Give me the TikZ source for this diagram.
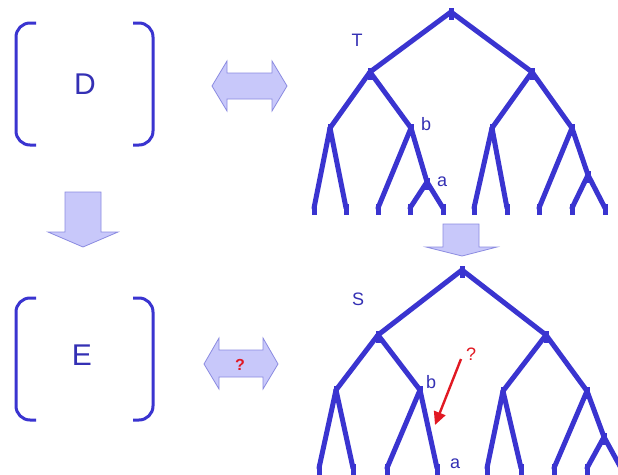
\documentclass[tikz,border=0pt]{standalone}
\usepackage{fontspec}
\setmainfont{Liberation Sans}
\usetikzlibrary{arrows.meta}
\definecolor{treeblue}{RGB}{58,52,208}
\definecolor{txtblue}{RGB}{52,48,180}
\definecolor{blockfill}{RGB}{200,200,250}
\definecolor{blockedge}{RGB}{140,140,225}
\definecolor{qred}{RGB}{225,25,35}
\tikzset{
  edge/.style={treeblue, line width=5pt, line cap=round, line join=round},
  stub/.style={treeblue, line width=5pt, line cap=rect},
  bracket/.style={treeblue, line width=3pt, rounded corners=14pt},
  blockarrow/.style={fill=blockfill, draw=blockedge, line width=0.8pt, line join=miter},
  lbl/.style={txtblue, font=\fontsize{18}{18}\selectfont, inner sep=0pt},
  big/.style={txtblue, font=\fontsize{30}{30}\selectfont, inner sep=0pt},
  qmark/.style={qred, font=\fontsize{18}{18}\selectfont, inner sep=0pt},
}
\newcommand{\nodestub}[1]{\draw[stub] ([yshift=-5pt]#1) -- ([yshift=2pt]#1);}
\newcommand{\leafstub}[1]{\draw[stub] ([yshift=-4pt]#1) -- ([yshift=2pt]#1);}
\begin{document}
\begin{tikzpicture}[x=1pt,y=-1pt]
\path[fill=white] (0,0) rectangle (618,474);
\clip (0,0) rectangle (618,474);

% ---------- left column: D and E ----------
\draw[bracket] (36,23) -- (16,23) -- (16,145) -- (36,145);
\draw[bracket] (133,23) -- (153,23) -- (153,145) -- (133,145);
\node[big] (D) at (85,84) {D};

\draw[bracket] (36,298) -- (16,298) -- (16,420) -- (36,420);
\draw[bracket] (133,298) -- (153,298) -- (153,420) -- (133,420);
\node[big] (E) at (82,355) {E};

% downward block arrow D -> E
\draw[blockarrow] (65,192) -- (101,192) -- (101,232) -- (118,232) -- (83,247)
  -- (48,232) -- (65,232) -- cycle;

% double block arrow D <-> T
\draw[blockarrow] (212,86) -- (227,61) -- (227,73) -- (272,73) -- (272,61)
  -- (287,86) -- (272,111) -- (272,99) -- (227,99) -- (227,111) -- cycle;

% double block arrow E <-> S with question mark
\draw[blockarrow] (204,364) -- (219,338) -- (219,350) -- (263,350) -- (263,338)
  -- (278,364) -- (263,389) -- (263,377) -- (219,377) -- (219,389) -- cycle;
\node[qred, font=\bfseries\fontsize{16}{16}\selectfont, inner sep=0pt] (q1) at (240,365) {?};

% downward block arrow T -> S
\draw[blockarrow] (443,224) -- (479,224) -- (479,247) -- (497,247) -- (462,256)
  -- (426,247) -- (443,247) -- cycle;

% ---------- tree T ----------
\coordinate (Tr) at (451,12);
\coordinate (T1) at (370,72);
\coordinate (T2) at (532,72);
\coordinate (T11) at (330,128);
\coordinate (Tb) at (411,128);
\coordinate (T21) at (492,128);
\coordinate (T22) at (572,128);
\coordinate (Ta) at (427,182);
\coordinate (T222) at (588,175);
\coordinate (L1) at (314,208);
\coordinate (L2) at (346,208);
\coordinate (L3) at (378,208);
\coordinate (L4) at (410,208);
\coordinate (L5) at (443,208);
\coordinate (L6) at (474,208);
\coordinate (L7) at (507,208);
\coordinate (L8) at (539,208);
\coordinate (L9) at (572,208);
\coordinate (L10) at (605,208);

\draw[edge] (Tr) -- (T1);  \draw[edge] (Tr) -- (T2);
\draw[edge] (T1) -- (T11); \draw[edge] (T1) -- (Tb);
\draw[edge] (T2) -- (T21); \draw[edge] (T2) -- (T22);
\draw[edge] (T11) -- (L1); \draw[edge] (T11) -- (L2);
\draw[edge] (Tb) -- (L3);  \draw[edge] (Tb) -- (Ta);
\draw[edge] (Ta) -- (L4);  \draw[edge] (Ta) -- (L5);
\draw[edge] (T21) -- (L6); \draw[edge] (T21) -- (L7);
\draw[edge] (T22) -- (L8); \draw[edge] (T22) -- (T222);
\draw[edge] (T222) -- (L9); \draw[edge] (T222) -- (L10);
\foreach \n in {Tr,T1,T2,T11,Tb,T21,T22,Ta,T222} {\nodestub{\n}}
\foreach \n in {L1,L2,L3,L4,L5,L6,L7,L8,L9,L10} {\leafstub{\n}}

\node[lbl] (labT) at (357,40) {T};
\node[lbl] (labTb) at (426,124) {b};
\node[lbl] (labTa) at (442,182) {a};

% ---------- tree S ----------
\coordinate (Sr) at (462,270);
\coordinate (S1) at (378,335);
\coordinate (S2) at (546,335);
\coordinate (S11) at (336,390);
\coordinate (Sb) at (420,390);
\coordinate (S21) at (503,391);
\coordinate (S22) at (587,391);
\coordinate (S222) at (604,437);
\coordinate (M1) at (319,468);
\coordinate (M2) at (353,468);
\coordinate (M3) at (387,468);
\coordinate (M4) at (437,468);
\coordinate (M5) at (487,468);
\coordinate (M6) at (521,468);
\coordinate (M7) at (554,468);
\coordinate (M8) at (587,468);
\coordinate (M9) at (621,468);

\draw[edge] (Sr) -- (S1);  \draw[edge] (Sr) -- (S2);
\draw[edge] (S1) -- (S11); \draw[edge] (S1) -- (Sb);
\draw[edge] (S2) -- (S21); \draw[edge] (S2) -- (S22);
\draw[edge] (S11) -- (M1); \draw[edge] (S11) -- (M2);
\draw[edge] (Sb) -- (M3);  \draw[edge] (Sb) -- (M4);
\draw[edge] (S21) -- (M5); \draw[edge] (S21) -- (M6);
\draw[edge] (S22) -- (M7); \draw[edge] (S22) -- (S222);
\draw[edge] (S222) -- (M8); \draw[edge] (S222) -- (M9);
\foreach \n in {Sr,S1,S2,S11,Sb,S21,S22,S222} {\nodestub{\n}}
\foreach \n in {M1,M2,M3,M4,M5,M6,M7,M8} {\leafstub{\n}}

\node[lbl] (labS) at (358,299) {S};
\node[lbl] (labSb) at (431,382) {b};
\node[lbl] (labSa) at (455,464) {a};

% red question arrow
\coordinate (qs) at (461,359);
\coordinate (qe) at (435,425);
\draw[qred, line width=2.4pt, -{Triangle[length=13pt,width=12pt]}] (qs) -- (qe);
\node[qmark] (q2) at (471,354) {?};
\end{tikzpicture}
\end{document}
